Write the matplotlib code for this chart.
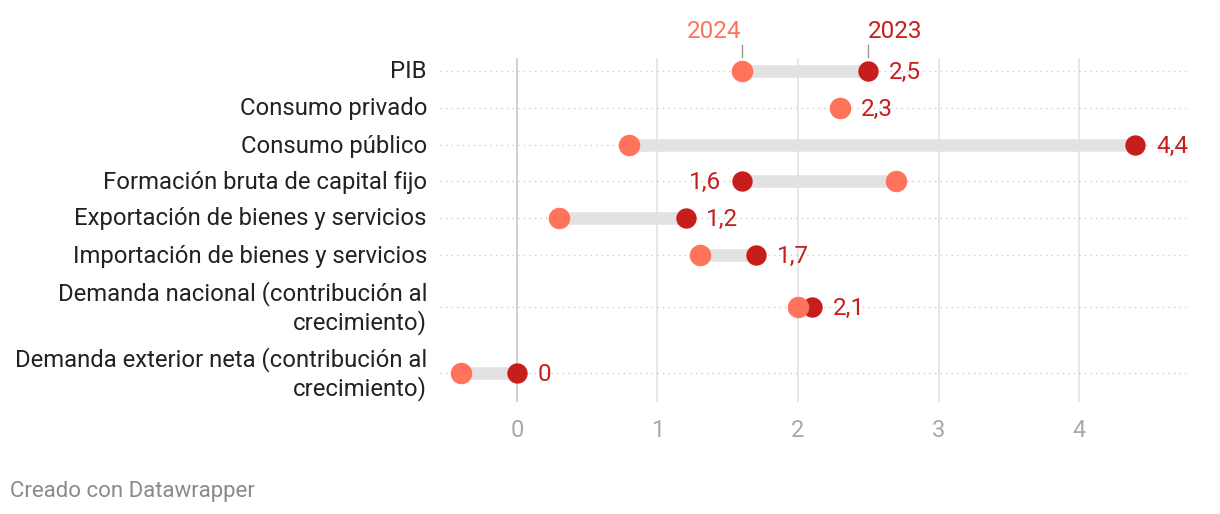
import numpy as np
import matplotlib
matplotlib.use('Agg')
import matplotlib.pyplot as plt

categories = ['PIB', 'Consumo privado', 'Consumo público', 'Formación bruta de capital fijo',
              'Exportación de bienes y servicios', 'Importación de bienes y servicios',
              'Demanda nacional (contribución al\ncrecimiento)',
              'Demanda exterior neta (contribución al\ncrecimiento)']
v2024 = [1.6, 2.3, 0.8, 2.7, 0.3, 1.3, 2.0, -0.4]
v2023 = [2.5, 2.3, 4.4, 1.6, 1.2, 1.7, 2.1, 0.0]
xticks = [0, 1, 2, 3, 4]

C24 = '#ff735a'
C23 = '#c71e1d'
# row centres in pixel units (layout only)
rows = [71, 108, 145, 181, 218, 255, 307, 373]

plt.rcParams['font.family'] = ['Roboto', 'DejaVu Sans']
fig = plt.figure(figsize=(12.2, 5.14), dpi=100)
ax = fig.add_axes([440 / 1220, 1 - 402 / 514, 750 / 1220, 344 / 514])
ax.set_xlim(-0.548, 4.79)
ax.set_ylim(402, 58)
for s in ax.spines.values():
    s.set_visible(False)
ax.set_yticks([])
ax.set_xticks(xticks)
ax.set_xticklabels([str(t) for t in xticks], fontsize=17, color='#a8a8a8')
ax.tick_params(axis='x', length=0, pad=12)

for t in xticks:
    ax.axvline(t, color='#c8c8c8' if t == 0 else '#e3e3e3', lw=1.2, zorder=0)
for y in rows:
    ax.plot([-0.548, 4.79], [y, y], ls=(0, (1, 3)), color='#cccccc', lw=1, zorder=1)

for name, a, b, y in zip(categories, v2024, v2023, rows):
    ax.plot([a, b], [y, y], color='#e2e2e2', lw=9, solid_capstyle='butt', zorder=2)
    ax.scatter([b], [y], s=215, color=C23, zorder=3, linewidths=0)
    ax.scatter([a], [y], s=215, color=C24, zorder=4, linewidths=0.8, edgecolors=C24)
    lab = f'{b:g}'.replace('.', ',')
    if b >= a:
        ax.annotate(lab, (max(a, b), y), xytext=(15, -1), textcoords='offset points',
                    va='center', ha='left', fontsize=17.5, color=C23)
    else:
        ax.annotate(lab, (b, y), xytext=(-15, -1), textcoords='offset points',
                    va='center', ha='right', fontsize=17.5, color=C23)
    ax.annotate(name, (0, y), xycoords=('figure fraction', 'data'), xytext=(427, -1),
                textcoords='offset pixels', ha='right', va='center', fontsize=17.2,
                color='#222222', linespacing=1.22)

# year labels above first row
ax.plot([v2024[0]] * 2, [45, 57], color='#999999', lw=1, clip_on=False)
ax.plot([v2023[0]] * 2, [45, 57], color='#999999', lw=1, clip_on=False)
ax.text(v2024[0], 43, '2024', ha='right', va='bottom', fontsize=17.5, color=C24)
ax.text(v2023[0], 43, '2023', ha='left', va='bottom', fontsize=17.5, color=C23)

fig.text(10 / 1220, 1 - 491 / 514, 'Creado con Datawrapper', fontsize=16,
         color='#8a8a8a', va='center', ha='left')

fig.savefig('out.png', dpi=100)
